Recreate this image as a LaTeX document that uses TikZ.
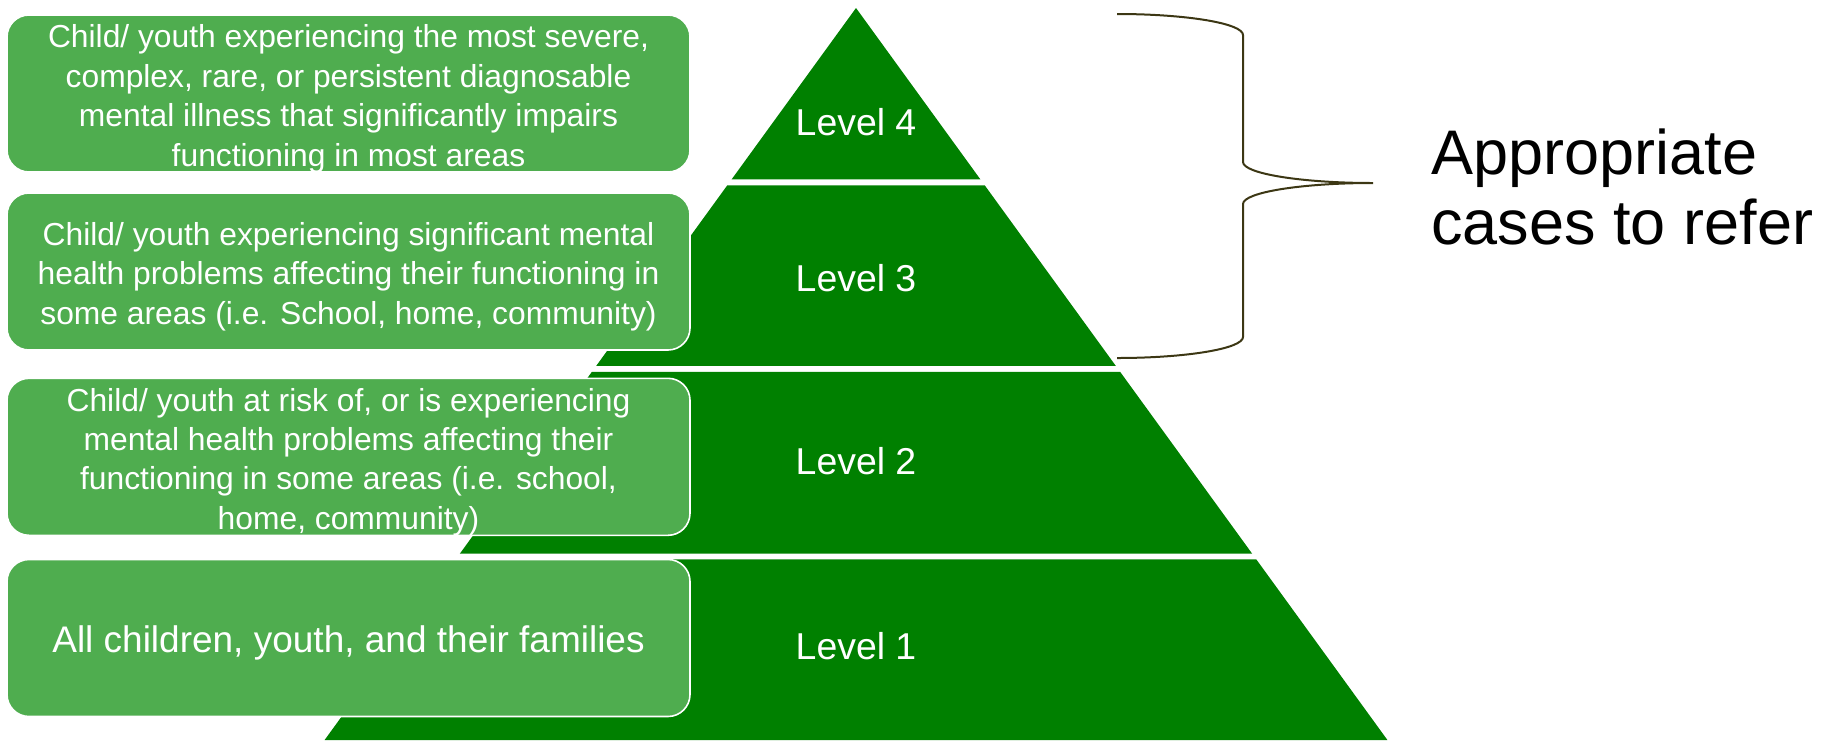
\documentclass[tikz,border=0pt]{standalone}
\usepackage{fontspec}
\setmainfont{Liberation Sans}
\definecolor{tiergreen}{RGB}{0,128,0}
\definecolor{boxgreen}{RGB}{79,173,79}
\definecolor{braceline}{RGB}{60,55,20}

\begin{document}
\begin{tikzpicture}[x=0.5pt,y=-0.5pt,
  tier/.style={fill=tiergreen, draw=none},
  infobox/.style={rectangle, rounded corners=11pt, fill=boxgreen, draw=white,
    line width=0.8pt, minimum width=341.5pt, minimum height=78.5pt, inner sep=0pt},
  boxtext/.style={text=white, align=center, inner sep=0pt, yshift=-2.6pt,
    font=\fontsize{15.9}{19.7}\selectfont},
  levellabel/.style={text=white, inner sep=0pt, font=\fontsize{18.7}{22}\selectfont},
  bracepath/.style={draw=braceline, line width=1pt}
]
\useasboundingbox (0,0) rectangle (1839,740);

% pyramid tiers (apex at 856,8; half-width grows 0.726 per unit of depth)
\fill[tier] (856,8) -- (980.4,179.4) -- (731.6,179.4) -- cycle;
\fill[tier] (727.3,185.3) -- (984.7,185.3) -- (1115.8,365.9) -- (596.2,365.9) -- cycle;
\fill[tier] (591.9,371.8) -- (1120.1,371.8) -- (1252.1,553.6) -- (459.9,553.6) -- cycle;
\fill[tier] (455.7,559.4) -- (1256.3,559.4) -- (1387.4,740) -- (324.6,740) -- cycle;

% level labels
\node[levellabel] (lvl4) at (856,122) {Level 4};
\node[levellabel] (lvl3) at (856,278) {Level 3};
\node[levellabel] (lvl2) at (856,461) {Level 2};
\node[levellabel] (lvl1) at (856,646) {Level 1};

% description boxes
\node[infobox] (box4) at (348.5,93.5) {};
\node[infobox] (box3) at (348.5,271.5) {};
\node[infobox] (box2) at (348.5,456.8) {};
\node[infobox] (box1) at (348.5,638) {};

\node[boxtext] (txt4) at (box4.center) {Child/ youth experiencing the most severe,\\complex, rare, or persistent diagnosable\\mental illness that significantly impairs\\functioning in most areas};
\node[boxtext] (txt3) at (box3.center) {Child/ youth experiencing significant mental\\health problems affecting their functioning in\\some areas (i.e. School, home, community)};
\node[boxtext] (txt2) at (box2.center) {Child/ youth at risk of, or is experiencing\\mental health problems affecting their\\functioning in some areas (i.e. school,\\home, community)};
\node[boxtext, font=\fontsize{18.5}{22}\selectfont] (txt1) at (box1.center) {All children, youth, and their families};

% brace over levels 3 and 4
\coordinate (btop) at (1117,14);
\coordinate (bbot) at (1117,358);
\coordinate (btip) at (1373,183);
\draw[bracepath] (btop) .. controls (1186.6,14) and (1243,23.4) .. (1243,35)
  -- (1243,162) .. controls (1243,173.6) and (1301.2,183) .. (btip)
  .. controls (1301.2,183) and (1243,192.4) .. (1243,204)
  -- (1243,337) .. controls (1243,348.6) and (1186.6,358) .. (bbot);

\node[anchor=west, align=left, inner sep=0pt, font=\fontsize{31.5}{35}\selectfont] (refer) at (1431,187) {Appropriate\\cases to refer};
\end{tikzpicture}
\end{document}
